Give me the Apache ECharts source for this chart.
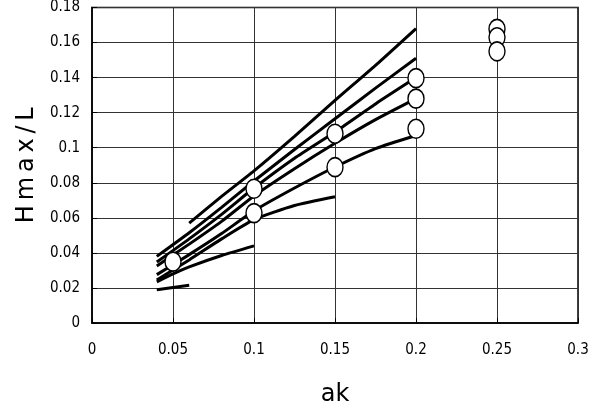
<!DOCTYPE html>
<html>
<head>
<meta charset="utf-8">
<script src="https://cdn.jsdelivr.net/npm/echarts@6/dist/echarts.min.js"></script>
<style>
  html, body { margin: 0; padding: 0; background: #fff; }
  #chart { width: 603px; height: 412px; }
</style>
</head>
<body>
<div id="chart"></div>
<script>
// computed curves, [ak, Hmax/L]
const curveA = [[0.06, 0.057], [0.08, 0.0722], [0.1, 0.0868], [0.125, 0.1065], [0.15, 0.127], [0.175, 0.147], [0.2, 0.168]]
const curveB = [[0.04, 0.038], [0.06, 0.0515], [0.08, 0.066], [0.1, 0.081], [0.125, 0.099], [0.15, 0.1165], [0.175, 0.134], [0.2, 0.151]]
const curveC = [[0.04, 0.0348], [0.06, 0.048], [0.08, 0.062], [0.1, 0.077], [0.125, 0.094], [0.15, 0.109], [0.175, 0.125], [0.2, 0.14]]
const curveD = [[0.04, 0.0325], [0.06, 0.045], [0.08, 0.058], [0.1, 0.0725], [0.125, 0.088], [0.15, 0.1025], [0.175, 0.116], [0.2, 0.128]]
const curveE = [[0.04, 0.0276], [0.06, 0.039], [0.08, 0.051], [0.1, 0.064], [0.125, 0.077], [0.15, 0.089], [0.175, 0.0995], [0.2, 0.107]]
const curveF = [[0.04, 0.0245], [0.06, 0.036], [0.08, 0.048], [0.1, 0.059], [0.125, 0.067], [0.15, 0.072]]
const curveG = [[0.04, 0.0235], [0.05, 0.028], [0.06, 0.032], [0.08, 0.0385], [0.1, 0.044]]
const curveH = [[0.04, 0.019], [0.06, 0.0215]]

// measured points (circles)
const pointAk = [0.05, 0.1, 0.1, 0.15, 0.15, 0.2, 0.2, 0.2, 0.25, 0.25, 0.25]
const pointH = [0.035, 0.0766, 0.0627, 0.108, 0.0889, 0.1397, 0.128, 0.1108, 0.1678, 0.163, 0.155]

const xTicks = [0, 0.05, 0.1, 0.15, 0.2, 0.25, 0.3]
const yTicks = [0, 0.02, 0.04, 0.06, 0.08, 0.1, 0.12, 0.14, 0.16, 0.18]

const tickFont = "'Liberation Sans Narrow', 'DejaVu Sans Condensed', sans-serif"
const nameFont = "'DejaVu Sans', sans-serif"

const chart = echarts.init(document.getElementById('chart'))

const curves = [curveA, curveB, curveC, curveD, curveE, curveF, curveG, curveH]
const lineSeries = curves.map((c) => ({
  type: 'line',
  data: c,
  smooth: 0.2,
  symbol: 'none',
  lineStyle: { color: '#000', width: 3 },
  z: 2,
}))

const option = {
  animation: false,
  backgroundColor: '#fff',
  grid: {
    left: 92,
    right: 25,
    top: 7,
    bottom: 89,
    show: true,
    borderColor: '#000',
    borderWidth: 1.5,
  },
  xAxis: {
    type: 'value',
    min: xTicks[0],
    max: xTicks[xTicks.length - 1],
    interval: 0.05,
    name: 'ak',
    nameLocation: 'middle',
    nameGap: 60,
    nameTextStyle: { fontFamily: nameFont, fontSize: 24, color: '#000' },
    axisLine: { lineStyle: { color: '#000', width: 1.5 } },
    axisTick: { inside: true, length: 5, lineStyle: { color: '#000' } },
    axisLabel: {
      margin: 20,
      fontFamily: tickFont,
      fontSize: 15,
      color: '#000',
      formatter: (v) => String(+v.toFixed(2)),
    },
    splitLine: { show: true, lineStyle: { color: '#333', width: 1 } },
  },
  yAxis: {
    type: 'value',
    min: yTicks[0],
    max: yTicks[yTicks.length - 1],
    interval: 0.02,
    name: 'H\u2009m\u2009a\u2009x\u2009/\u2009L',
    nameLocation: 'middle',
    nameGap: 52,
    nameTextStyle: { fontFamily: nameFont, fontSize: 24, color: '#000' },
    axisLine: { lineStyle: { color: '#000', width: 1.5 } },
    axisTick: { inside: true, length: 5, lineStyle: { color: '#000' } },
    axisLabel: {
      margin: 12,
      fontFamily: tickFont,
      fontSize: 15,
      color: '#000',
      formatter: (v) => String(+v.toFixed(2)),
    },
    splitLine: { show: true, lineStyle: { color: '#333', width: 1 } },
  },
  series: [
    ...lineSeries,
    {
      type: 'scatter',
      data: pointAk.map((x, i) => [x, pointH[i]]),
      symbol: 'circle',
      symbolSize: [16, 19],
      itemStyle: { color: '#fff', opacity: 1, borderColor: '#000', borderWidth: 1.5 },
      z: 5,
    },
  ],
}

chart.setOption(option)
</script>
</body>
</html>
